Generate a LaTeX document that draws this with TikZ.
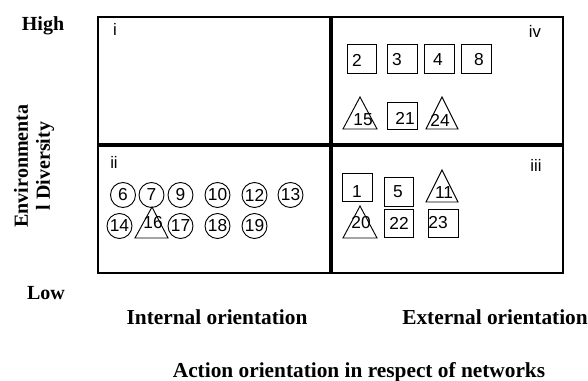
\documentclass[tikz,border=0pt]{standalone}
\usepackage{fontspec}
\setmainfont{Liberation Serif}
\setsansfont{Liberation Sans}
\begin{document}
\begin{tikzpicture}[x=0.75pt,y=-0.75pt,
  lbl/.style={font=\fontsize{16}{18}\selectfont\bfseries, inner sep=0pt},
  lbls/.style={font=\fontsize{15}{17}\selectfont\bfseries, inner sep=0pt},
  num/.style={font=\sffamily\fontsize{13}{14}\selectfont, inner sep=0pt},
  rom/.style={font=\sffamily\fontsize{12.5}{14}\selectfont, inner sep=0pt},
  circ/.style={draw, circle, line width=0.7pt, minimum size=25*0.75pt, inner sep=0pt, font=\sffamily\fontsize{13}{14}\selectfont},
  sq/.style={draw, rectangle, line width=0.7pt, minimum width=29.5*0.75pt, minimum height=28.5*0.75pt, inner sep=0pt},
  tri/.style={draw, line width=0.7pt, line join=miter},
  frame/.style={line width=1pt},
  divider/.style={line width=2.3pt}]
\useasboundingbox (0,0) rectangle (588,381);

% frame and dividers
\draw[frame] (98,17) rectangle (563,273);
\coordinate (vt) at (331,17);
\coordinate (vb) at (331,273);
\coordinate (hl) at (98,145);
\coordinate (hr) at (563,145);
\draw[divider] (vt) -- (vb);
\draw[divider] (hl) -- (hr);

% quadrant numerals
\node[rom] (ri) at (115,29) {i};
\node[rom] (riv) at (535,31) {iv};
\node[rom] (rii) at (114,162) {ii};
\node[rom] (riii) at (536,165) {iii};

% quadrant iv
\node[sq] (s2) at (362,59) {};  \node[num] (n2) at (357,60) {2};
\node[sq] (s3) at (402.5,59) {}; \node[num] (n3) at (397,60) {3};
\node[sq] (s4) at (439.5,59) {}; \node[num] (n4) at (438,60) {4};
\node[sq] (s8) at (476.5,59) {}; \node[num] (n8) at (479,60) {8};
\draw[tri] (360,97) -- (377,129) -- (343,129) -- cycle;
\node[num] (n15) at (363,120) {15};
\node[sq, minimum height=27*0.75pt] (s21) at (402.5,115.5) {}; \node[num] (n21) at (405,118) {21};
\draw[tri] (442,97) -- (458,129) -- (426,129) -- cycle;
\node[num] (n24) at (440,120) {24};

% quadrant ii
\node[circ] (c6) at (123,195) {6};
\node[circ] (c7) at (151.5,195) {7};
\node[circ] (c9) at (180.5,195) {9};
\node[circ] (c10) at (217.5,195) {10};
\node[circ] (c12) at (254.5,195) {12};
\node[circ] (c13) at (290.5,195) {13};
\node[circ] (c14) at (119.5,226) {14};
\draw[tri] (152,207) -- (168,238) -- (135,238) -- cycle;
\node[num] (n16) at (153,223) {16};
\node[circ] (c17) at (180.5,226) {17};
\node[circ] (c18) at (217.5,226) {18};
\node[circ] (c19) at (254.5,226) {19};

% quadrant iii
\node[sq] (s1) at (357.5,187.5) {}; \node[num] (n1) at (357,192) {1};
\node[sq] (s5) at (399,192) {}; \node[num] (n5) at (398,192) {5};
\draw[tri] (442,170) -- (458,202) -- (426,202) -- cycle;
\node[num] (n11) at (444,193) {11};
\draw[tri] (360,206) -- (377,238) -- (343,238) -- cycle;
\node[num] (n20) at (361,223) {20};
\node[sq] (s22) at (399,223.5) {}; \node[num] (n22) at (399,223) {22};
\node[sq] (s23) at (443.5,223.5) {}; \node[num] (n23) at (438,223) {23};

% axis labels
\node[lbls] (high) at (43,26) {High};
\node[lbls] (low) at (46,293) {Low};
\node[lbls, rotate=90, align=center, font=\fontsize{15}{16.5}\selectfont\bfseries] (env) at (34,166) {Environmenta\\l Diversity};
\node[lbl] (int) at (217,317) {Internal orientation};
\node[lbl] (ext) at (495,317) {External orientation};
\node[lbl] (act) at (359,372) {Action orientation in respect of networks};
\end{tikzpicture}
\end{document}
